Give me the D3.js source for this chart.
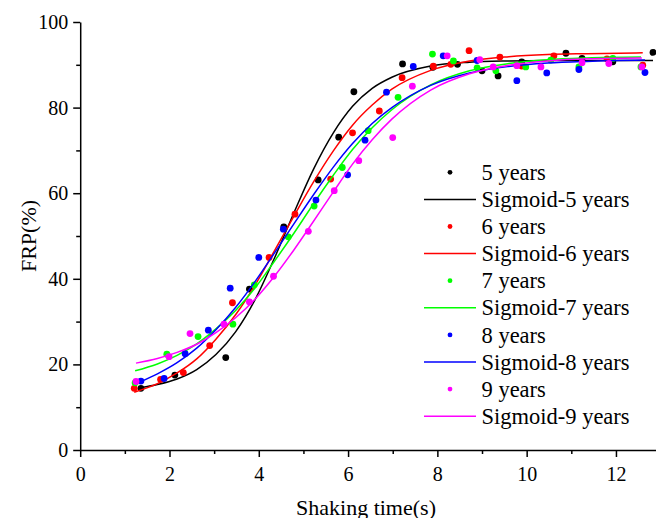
<!DOCTYPE html>
<html lang="en">
<head>
<meta charset="UTF-8"/>
<title>FRP vs shaking time</title>
<style>
    body { margin: 0; background: #fff; }
    svg { display: block; }
    text { font-family: "Liberation Serif", "Times New Roman", serif; fill: #000; }
</style>
</head>
<body>
<svg width="656" height="518"></svg>
<script src="https://d3js.org/d3.v7.min.js"></script>
<script>
    // measured points (shaking time in s, FRP in %)
    const time5 = [1.36, 2.12, 3.26, 3.79, 4.56, 5.33, 5.79, 6.13, 7.22, 7.90, 8.45, 9.00, 9.36, 9.89, 10.88, 11.24, 11.93, 12.83];
    const frp5 = [14.4, 17.5, 21.6, 37.6, 52.1, 63.1, 73.1, 83.7, 90.2, 89.4, 90.1, 88.6, 87.4, 90.7, 92.7, 91.5, 90.7, 92.9];
    const time6 = [1.21, 1.80, 2.31, 2.90, 3.41, 4.23, 4.81, 5.61, 6.10, 6.70, 7.21, 7.91, 8.30, 8.71, 9.40, 9.89, 10.61, 11.80, 12.60];
    const frp6 = [14.4, 16.5, 18.1, 24.4, 34.4, 45.0, 55.1, 63.3, 74.1, 79.2, 87.0, 89.7, 90.1, 93.3, 91.8, 89.7, 92.1, 91.4, 89.9];
    const time7 = [1.23, 1.94, 2.64, 3.42, 3.90, 4.66, 5.24, 5.87, 6.45, 7.12, 7.89, 8.36, 8.89, 9.31, 9.98, 10.54, 11.17, 11.93, 12.56];
    const frp7 = [15.7, 22.4, 26.5, 29.4, 38.6, 49.8, 57.0, 66.0, 74.6, 82.4, 92.5, 90.9, 89.3, 88.6, 89.5, 91.1, 89.5, 91.5, 89.5];
    const time8 = [1.36, 1.88, 2.35, 2.87, 3.36, 4.00, 4.55, 5.28, 5.99, 6.38, 6.86, 7.46, 8.13, 8.89, 9.78, 10.45, 11.17, 12.65];
    const frp8 = [16.1, 16.7, 22.5, 28.0, 37.8, 45.0, 51.6, 58.4, 64.3, 72.4, 83.6, 89.6, 92.1, 91.0, 86.3, 88.1, 88.9, 88.2];
    const time9 = [1.25, 1.99, 2.46, 3.22, 3.79, 4.33, 5.11, 5.69, 6.24, 7.00, 7.44, 8.22, 8.95, 9.25, 9.78, 10.32, 11.24, 11.84, 12.58];
    const frp9 = [16.0, 21.8, 27.2, 29.4, 34.6, 40.6, 51.1, 60.6, 67.6, 73.0, 85.0, 92.1, 91.2, 89.5, 89.8, 89.5, 90.5, 90.3, 89.5];

    // fitted sigmoid curves
    const fitTime5 = [1.36, 1.73, 2.17, 2.61, 3.04, 3.48, 3.92, 4.35, 4.79, 5.23, 5.67, 6.10, 6.54, 6.98, 7.85, 8.72, 9.60, 10.47, 11.35, 12.83];
    const fitFrp5 = [14.6, 15.3, 16.6, 18.8, 22.3, 27.6, 35.2, 44.8, 55.5, 65.7, 74.1, 80.3, 84.5, 87.1, 89.7, 90.6, 90.9, 91.0, 91.0, 91.0];
    const fitTime6 = [1.21, 1.73, 2.17, 2.61, 3.04, 3.48, 3.92, 4.35, 4.79, 5.23, 5.67, 6.10, 6.54, 6.98, 7.85, 8.72, 9.60, 10.47, 11.35, 12.60];
    const fitFrp6 = [13.5, 15.5, 18.0, 21.3, 25.9, 31.6, 38.6, 46.5, 54.7, 62.7, 69.9, 75.9, 80.6, 84.3, 88.7, 90.9, 91.9, 92.4, 92.6, 92.8];
    const fitTime7 = [1.23, 1.73, 2.17, 2.61, 3.04, 3.48, 3.92, 4.35, 4.79, 5.23, 5.67, 6.10, 6.54, 6.98, 7.85, 8.72, 9.60, 10.47, 11.35, 12.56];
    const fitFrp7 = [18.5, 20.1, 22.1, 24.8, 28.3, 32.6, 37.9, 44.1, 50.7, 57.6, 64.2, 70.2, 75.3, 79.5, 85.3, 88.6, 90.3, 91.2, 91.6, 91.8];
    const fitTime8 = [1.36, 1.73, 2.17, 2.61, 3.04, 3.48, 3.92, 4.35, 4.79, 5.23, 5.67, 6.10, 6.54, 6.98, 7.85, 8.72, 9.60, 10.47, 11.35, 12.65];
    const fitFrp8 = [16.0, 17.8, 20.4, 23.8, 28.1, 33.3, 39.4, 46.0, 52.9, 59.7, 66.1, 71.6, 76.3, 80.0, 85.2, 88.1, 89.6, 90.4, 90.8, 91.1];
    const fitTime9 = [1.25, 1.73, 2.17, 2.61, 3.04, 3.48, 3.92, 4.35, 4.79, 5.23, 5.67, 6.10, 6.54, 6.98, 7.85, 8.72, 9.60, 10.47, 11.35, 12.58];
    const fitFrp9 = [20.3, 21.4, 22.8, 24.7, 27.4, 30.9, 35.3, 40.6, 46.8, 53.5, 60.3, 66.8, 72.5, 77.3, 84.1, 87.9, 89.9, 90.9, 91.4, 91.6];

    const seriesNames = ["5 years", "6 years", "7 years", "8 years", "9 years"];
    const xMajorTicks = [0, 2, 4, 6, 8, 10, 12];
    const xMinorTicks = [1, 3, 5, 7, 9, 11, 13];
    const yMajorTicks = [0, 20, 40, 60, 80, 100];
    const yMinorTicks = [10, 30, 50, 70, 90];

    const colors = ["#000000", "#ff0000", "#00ff00", "#0000ff", "#ff00ff"];

    const series = [
        {name: seriesNames[0], t: time5, v: frp5, ft: fitTime5, fv: fitFrp5},
        {name: seriesNames[1], t: time6, v: frp6, ft: fitTime6, fv: fitFrp6},
        {name: seriesNames[2], t: time7, v: frp7, ft: fitTime7, fv: fitFrp7},
        {name: seriesNames[3], t: time8, v: frp8, ft: fitTime8, fv: fitFrp8},
        {name: seriesNames[4], t: time9, v: frp9, ft: fitTime9, fv: fitFrp9}
    ];

    const svg = d3.select("svg");
    const x = d3.scaleLinear().domain([0, 13]).range([80.2, 660.6]);
    const y = d3.scaleLinear().domain([0, 100]).range([450, 22]);

    // axes
    const xAxis = svg.append("g").attr("transform", "translate(0,450)")
        .call(d3.axisBottom(x).tickValues(xMajorTicks).tickSize(7).tickSizeOuter(0).tickPadding(10));
    svg.append("g").attr("transform", "translate(0,450)")
        .call(d3.axisBottom(x).tickValues(xMinorTicks).tickSize(4).tickFormat(""))
        .select(".domain").remove();
    const yAxis = svg.append("g").attr("transform", "translate(80.2,0)")
        .call(d3.axisLeft(y).tickValues(yMajorTicks).tickSize(7).tickSizeOuter(0).tickPadding(5));
    svg.append("g").attr("transform", "translate(80.2,0)")
        .call(d3.axisLeft(y).tickValues(yMinorTicks).tickSize(4).tickFormat(""))
        .select(".domain").remove();

    svg.selectAll(".domain, .tick line").attr("stroke", "#000").attr("stroke-width", 1.5);
    svg.selectAll(".tick text").style("font-size", "20px");

    svg.append("text")
        .attr("transform", "translate(36,236) rotate(-90)")
        .attr("text-anchor", "middle")
        .style("font-size", "22px")
        .text("FRP(%)");
    svg.append("text")
        .attr("x", 366).attr("y", 515)
        .attr("text-anchor", "middle")
        .style("font-size", "22px")
        .text("Shaking time(s)");

    // plot
    const line = d3.line().x(d => x(d[0])).y(d => y(d[1])).curve(d3.curveMonotoneX);
    const plot = svg.append("g");
    series.forEach((s, i) => {
        plot.append("g")
            .selectAll("circle")
            .data(d3.zip(s.t, s.v))
            .enter()
            .append("circle")
            .attr("cx", d => x(d[0]))
            .attr("cy", d => y(d[1]))
            .attr("r", 3.4)
            .attr("fill", colors[i]);
        plot.append("path")
            .datum(d3.zip(s.ft, s.fv))
            .attr("d", line)
            .attr("fill", "none")
            .attr("stroke", colors[i])
            .attr("stroke-width", 1.5);
    });

    // legend
    const legendItems = [];
    series.forEach((s, i) => {
        legendItems.push({label: s.name, kind: "dot", color: colors[i]});
        legendItems.push({label: "Sigmoid-" + s.name, kind: "line", color: colors[i]});
    });
    const legend = svg.append("g");
    const rows = legend.selectAll("g")
        .data(legendItems)
        .enter()
        .append("g")
        .attr("transform", (d, i) => `translate(0,${172.3 + i * 27.1})`);
    rows.filter(d => d.kind === "dot").append("circle")
        .attr("cx", 450).attr("cy", 0).attr("r", 2.4)
        .attr("fill", d => d.color);
    rows.filter(d => d.kind === "line").append("line")
        .attr("x1", 424).attr("x2", 476)
        .attr("stroke", d => d.color).attr("stroke-width", 1.5);
    rows.append("text")
        .attr("x", 481.5).attr("dy", "0.34em")
        .style("font-size", "22.5px")
        .text(d => d.label);
</script>
</body>
</html>
